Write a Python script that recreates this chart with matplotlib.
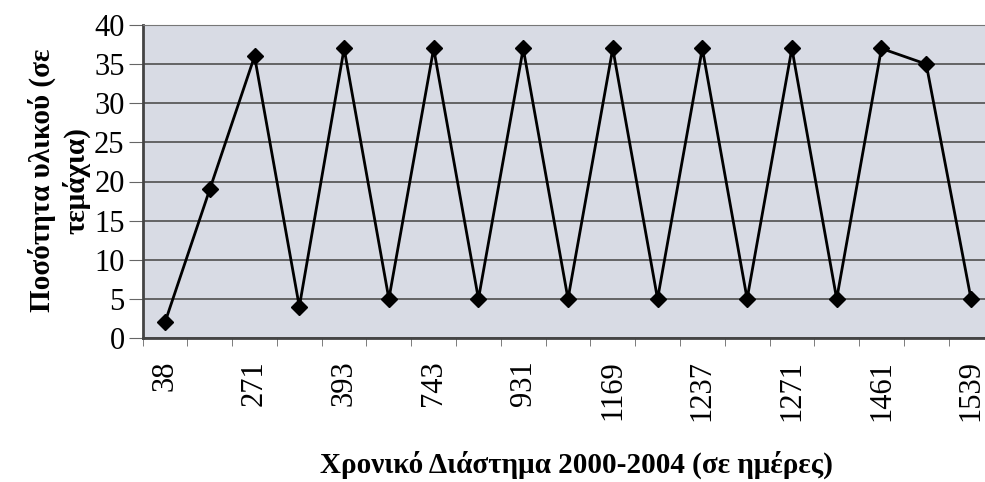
import matplotlib
matplotlib.use('agg')
import matplotlib.pyplot as plt
import numpy as np

# ποσότητα υλικού ανά παραγγελία
days = ['38', '', '271', '', '393', '', '743', '', '931', '', '1169', '',
        '1237', '', '1271', '', '1461', '', '1539']
quantity = [2, 19, 36, 4, 37, 5, 37, 5, 37, 5, 37, 5, 37, 5, 37, 5, 37, 35, 5]

plt.rcParams['font.family'] = ['Liberation Serif', 'DejaVu Serif']

fig = plt.figure(figsize=(9.85, 4.82), dpi=100)
ax = fig.add_axes([142.6 / 985, 1 - 338 / 482, (993.4 - 142.6) / 985, (338 - 25) / 482])
ax.set_facecolor('#d8dbe4')

x = np.arange(len(quantity))
ax.plot(x, quantity, color='black', lw=2, marker='D', markersize=8, zorder=3)

ax.set_xlim(-0.5, len(quantity) - 0.5)
ax.set_ylim(0, 40)
ax.set_yticks(range(0, 41, 5))
ax.yaxis.grid(True, color='#5a5a5a', lw=1.3)
ax.set_axisbelow(True)

# ετικέτες μόνο για τις μισές κατηγορίες
ax.set_xticks(x)
ax.set_xticklabels(days, rotation=90, fontsize=22)
ax.tick_params(axis='x', length=0, pad=16)
ax.set_xticks(np.arange(-0.5, len(quantity), 1), minor=True)
ax.tick_params(axis='x', which='minor', length=6, color='#666666')
ax.tick_params(axis='y', labelsize=22, length=10, color='#666666', pad=3)

for s in ['left', 'bottom']:
    ax.spines[s].set_color('#444444')
    ax.spines[s].set_linewidth(2)
ax.spines['top'].set_color('#777777')
ax.spines['right'].set_visible(False)

fig.text(0.042, 0.625, 'Ποσότητα υλικού (σε', rotation=90, ha='center', va='center',
         fontsize=21, fontweight='bold')
fig.text(0.077, 0.625, 'τεμάχια)', rotation=90, ha='center', va='center',
         fontsize=21, fontweight='bold')
fig.text(0.585, 0.035, 'Χρονικό Διάστημα 2000-2004 (σε ημέρες)', ha='center', va='center',
         fontsize=21, fontweight='bold')

plt.savefig('out.png', dpi=100)
